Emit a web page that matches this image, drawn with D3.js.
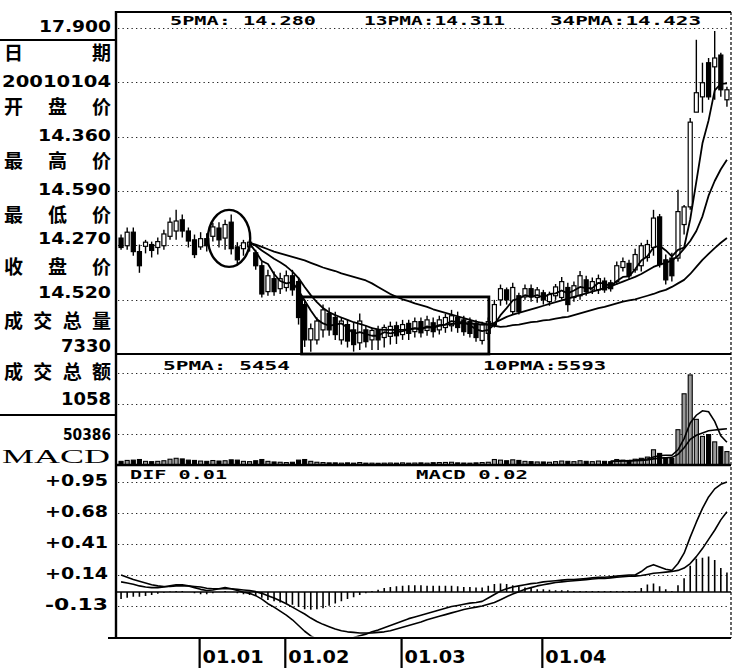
<!DOCTYPE html>
<html><head><meta charset="utf-8">
<script src="https://cdn.jsdelivr.net/npm/d3@7/dist/d3.min.js"></script>
<style>
html,body{margin:0;padding:0;background:#fff;}
svg{display:block;}
</style></head><body>
<svg id="chart" width="736" height="668"></svg>
<script>
// ---------------- DATA ----------------
const opens = [14.33,14.20,14.43,14.10,14.19,14.22,14.17,14.20,14.36,14.45,
14.64,14.45,14.30,14.18,14.32,14.36,14.50,14.33,14.60,14.18,
14.15,14.18,14.08,13.86,13.42,13.64,13.47,13.49,13.69,13.59,
13.20,12.60,12.60,12.77,13.05,12.98,12.60,12.86,12.77,12.55,
12.77,12.60,12.77,12.64,12.66,12.84,12.69,12.88,12.74,12.91,
12.76,12.89,12.77,12.81,12.84,12.98,12.94,12.91,12.88,12.59,
12.71,12.86,13.28,13.45,13.08,13.35,13.33,13.47,13.32,13.40,
13.25,13.35,13.32,13.49,13.32,13.35,13.62,13.45,13.45,13.60,
13.57,13.59,13.83,13.90,13.79,13.86,14.00,14.17,14.69,13.96,
13.99,13.99,14.56,14.86,16.47,16.73,17.31,17.24,17.44,16.68];
const highs = [14.39,14.51,14.51,14.22,14.30,14.27,14.34,14.47,14.68,14.81,
14.73,14.51,14.39,14.43,14.41,14.59,14.60,14.64,14.73,14.26,
14.30,14.30,14.13,13.93,13.79,13.76,13.74,13.78,13.79,13.66,
13.28,12.88,12.98,13.20,13.15,13.08,12.98,12.94,12.90,13.05,
12.84,12.81,12.84,12.86,12.91,12.91,12.94,12.94,12.98,12.98,
13.01,12.98,13.01,13.04,13.11,13.08,13.01,12.98,12.94,12.91,
12.98,13.28,13.54,13.49,13.57,13.40,13.54,13.54,13.50,13.45,
13.42,13.55,13.67,13.57,13.59,13.77,13.69,13.66,13.71,13.66,
13.62,13.93,14.00,13.96,14.15,14.25,14.30,14.81,14.74,14.05,
14.08,15.15,14.89,16.37,17.70,17.31,17.39,17.85,17.48,16.90];
const lows = [14.13,14.13,14.03,13.74,14.07,14.00,14.05,14.13,14.30,14.30,
14.34,14.17,13.99,14.13,14.10,14.27,14.17,14.13,14.05,13.88,
14.03,14.10,13.79,13.32,13.35,13.35,13.38,13.42,13.35,12.86,
12.48,12.40,12.52,12.64,12.67,12.60,12.52,12.47,12.40,12.43,
12.47,12.43,12.43,12.47,12.52,12.53,12.60,12.60,12.64,12.64,
12.67,12.64,12.69,12.72,12.74,12.72,12.67,12.64,12.57,12.52,
12.60,12.81,13.18,13.20,13.03,13.03,13.28,13.25,13.23,13.20,
13.18,13.28,13.28,13.08,13.25,13.28,13.35,13.38,13.38,13.40,
13.42,13.54,13.76,13.62,13.74,13.76,13.93,14.03,13.83,13.54,
13.59,13.93,14.39,14.81,16.47,16.46,16.68,16.68,16.73,16.56];
const closes = [14.17,14.43,14.10,13.86,14.26,14.12,14.27,14.40,14.60,14.62,
14.45,14.28,14.05,14.32,14.20,14.52,14.30,14.56,14.15,13.96,
14.25,14.26,13.86,13.38,13.69,13.42,13.64,13.69,13.45,12.98,
12.60,12.79,12.92,13.11,12.77,12.69,12.92,12.58,12.52,12.92,
12.57,12.76,12.60,12.81,12.83,12.67,12.86,12.71,12.91,12.72,
12.94,12.74,12.94,12.98,13.01,12.81,12.74,12.71,12.64,12.86,
12.91,13.20,13.47,13.28,13.49,13.08,13.47,13.33,13.45,13.28,
13.37,13.50,13.59,13.20,13.52,13.69,13.42,13.59,13.64,13.45,
13.47,13.86,13.93,13.69,14.05,14.20,14.22,14.67,13.88,13.62,
13.69,14.78,14.86,16.30,16.80,16.97,16.73,17.39,16.85,16.85];
const volumes = [6000,7500,8000,9000,6000,5500,6000,7000,9500,11000,
10000,8000,7500,6500,6000,7330,6500,7000,8500,8000,
6000,5500,7000,9000,6000,5000,4500,4000,4500,8000,
9000,6000,4500,4000,3500,3500,3000,3500,3000,4000,
3000,3000,2800,3000,3200,3000,3500,3000,3200,3500,
3000,3800,4000,4200,4500,3500,3200,3000,3500,4000,
4500,9000,8000,7000,8500,7500,6000,5500,5000,5000,
4500,5500,6500,6000,5500,7000,6000,5500,6500,6000,
5500,9000,8000,7500,9500,11000,13000,25000,19000,12000,
11000,58000,117000,148000,75000,47000,50000,38000,30000,22000];

// price moving averages (shown from candle maStart onward)
const maStart = 21;
const ma5 = [14.24,14.10,13.94,13.89,13.72,13.60,13.56,13.58,13.44,13.27,
13.10,12.95,12.88,12.84,12.86,12.88,12.81,12.70,12.73,12.70,
12.67,12.67,12.73,12.71,12.73,12.75,12.78,12.80,12.77,12.83,
12.80,12.85,12.86,12.92,12.90,12.90,12.85,12.78,12.75,12.77,
12.86,13.02,13.14,13.27,13.30,13.36,13.33,13.36,13.32,13.38,
13.39,13.44,13.39,13.44,13.50,13.48,13.48,13.57,13.56,13.51,
13.60,13.67,13.68,13.80,13.95,14.02,14.17,14.20,14.12,14.02,
14.13,14.17,14.65,15.29,15.94,16.33,16.84,16.95,16.96];
const ma13 = [14.25,14.20,14.12,14.05,13.98,13.92,13.85,13.76,13.65,13.50,
13.36,13.24,13.14,13.07,13.02,12.98,12.94,12.90,12.87,12.84,
12.80,12.78,12.77,12.77,12.77,12.77,12.78,12.79,12.80,12.81,
12.82,12.84,12.86,12.87,12.88,12.88,12.88,12.87,12.86,12.86,
12.89,12.94,12.99,13.03,13.06,13.09,13.12,13.15,13.18,13.21,
13.24,13.27,13.30,13.33,13.36,13.39,13.42,13.45,13.48,13.51,
13.55,13.59,13.63,13.67,13.72,13.78,13.84,13.88,13.91,13.95,
14.03,14.15,14.28,14.45,14.70,15.05,15.30,15.50,15.66];
const ma34 = [14.25,14.22,14.18,14.14,14.10,14.07,14.04,14.01,13.98,13.95,
13.91,13.87,13.83,13.80,13.77,13.73,13.70,13.67,13.64,13.61,
13.56,13.50,13.44,13.38,13.33,13.29,13.26,13.22,13.19,13.16,
13.12,13.09,13.06,13.03,13.00,12.97,12.94,12.91,12.89,12.86,
12.84,12.82,12.83,12.85,12.86,12.88,12.90,12.91,12.93,12.94,
12.96,12.98,12.99,13.02,13.05,13.08,13.11,13.14,13.16,13.19,
13.22,13.25,13.27,13.29,13.32,13.35,13.38,13.42,13.45,13.50,
13.56,13.62,13.72,13.84,13.96,14.06,14.16,14.25,14.33];

// volume moving averages (visible part, from candle volMaStart onward)
const volMaStart = 80;
const volMa5 = [5900,6500,7000,7200,7900,9000,9800,13200,15500,16000,
16000,25000,43400,69200,81800,89000,87400,71600,48000,37400];
const volMa10 = [6000,6350,6500,6650,7050,7450,8150,10100,11350,11950,
12500,17400,28300,42350,48900,52500,56200,57500,58600,59600];

// MACD
const dif = [0.08,0.07,0.06,0.045,0.035,0.03,0.03,0.035,0.045,0.055,
0.055,0.045,0.03,0.015,0.005,0.01,0.02,0.03,0.02,0.005,
-0.01,-0.02,-0.04,-0.07,-0.11,-0.14,-0.175,-0.21,-0.25,-0.30,
-0.35,-0.39,-0.42,-0.43,-0.43,-0.43,-0.425,-0.415,-0.405,-0.39,
-0.375,-0.355,-0.34,-0.32,-0.30,-0.28,-0.26,-0.24,-0.225,-0.21,
-0.195,-0.18,-0.165,-0.15,-0.135,-0.125,-0.115,-0.105,-0.10,-0.09,
-0.06,-0.03,0.00,0.02,0.035,0.045,0.055,0.065,0.07,0.08,
0.085,0.09,0.095,0.10,0.10,0.105,0.11,0.115,0.12,0.12,
0.125,0.13,0.135,0.14,0.14,0.17,0.21,0.23,0.21,0.19,
0.18,0.24,0.33,0.47,0.60,0.72,0.82,0.89,0.93,0.95];
const dea = [0.14,0.12,0.10,0.085,0.07,0.055,0.045,0.04,0.04,0.045,
0.045,0.045,0.04,0.035,0.025,0.02,0.02,0.02,0.02,0.015,
0.01,0.005,-0.005,-0.02,-0.04,-0.06,-0.085,-0.11,-0.14,-0.17,
-0.20,-0.235,-0.265,-0.29,-0.31,-0.33,-0.345,-0.355,-0.36,-0.365,
-0.365,-0.365,-0.36,-0.355,-0.345,-0.33,-0.315,-0.30,-0.285,-0.27,
-0.25,-0.235,-0.22,-0.205,-0.19,-0.175,-0.16,-0.15,-0.14,-0.13,
-0.115,-0.10,-0.075,-0.05,-0.025,-0.005,0.015,0.03,0.045,0.055,
0.065,0.075,0.08,0.085,0.09,0.095,0.10,0.105,0.11,0.11,
0.115,0.12,0.125,0.13,0.13,0.135,0.145,0.155,0.16,0.165,
0.17,0.18,0.20,0.24,0.30,0.37,0.45,0.53,0.62,0.69];
const macdBar = [-0.06,-0.05,-0.04,-0.04,-0.035,-0.025,-0.015,-0.005,0.005,0.01,
0.01,0.0,-0.01,-0.02,-0.02,-0.01,0.0,0.01,0.0,-0.01,
-0.02,-0.025,-0.035,-0.05,-0.07,-0.08,-0.09,-0.10,-0.11,-0.13,
-0.15,-0.155,-0.15,-0.14,-0.12,-0.10,-0.08,-0.06,-0.045,-0.025,
-0.01,0.01,0.02,0.035,0.045,0.05,0.055,0.06,0.06,0.06,
0.055,0.055,0.055,0.055,0.055,0.05,0.045,0.045,0.04,0.04,
0.055,0.07,0.075,0.07,0.06,0.05,0.04,0.035,0.025,0.025,
0.02,0.015,0.015,0.015,0.01,0.01,0.01,0.01,0.01,0.01,
0.01,0.01,0.01,0.01,0.01,0.035,0.065,0.075,0.05,0.025,
0.01,0.06,0.12,0.23,0.29,0.30,0.31,0.28,0.21,0.17];

// axes / labels
const priceTop = 17.9, priceBottom = 12.36;
const volGridStep = 50386;
const macdTicks = [0.95, 0.68, 0.41, 0.14, -0.13];
const macdTickLabels = ["+0.95", "+0.68", "+0.41", "+0.14", "-0.13"];
const monthIdx = [13, 27, 46, 69];
const monthLabels = ["01.01", "01.02", "01.03", "01.04"];
const priceHeader = ["5PMA:  14.280", "13PMA:14.311", "34PMA:14.423"];
const volHeader = ["5PMA:  5454", "10PMA:5593"];
const macdHeader = ["DIF 0.01", "MACD 0.02"];
const infoLabels = ["日期", "开盘价", "最高价", "最低价", "收盘价", "成交总量", "成交总额"];
const infoValues = ["20010104", "14.360", "14.590", "14.270", "14.520", "7330", "1058"];
// annotations: ellipse around candles 14.2..21.1, box around candles 29.5..60.1
const circleSpan = [14.2, 21.1], circlePrice = [13.84, 14.81];
const boxSpan = [29.5, 60.1], boxPriceTop = 13.33;

// ---------------- LAYOUT ----------------
const L = 116, R = 731, TOP = 12, PB = 354, VB = 465, MB = 638;
const svg = d3.select("#chart");
const N = closes.length;
const xi = d3.scaleLinear().domain([-0.5, N - 0.5]).range([118, 730]);
const step = xi(1) - xi(0);
const bw = step * 0.66;
const yP = d3.scaleLinear().domain([priceBottom, priceTop]).range([PB, 28]);
const yV = d3.scaleLinear().domain([0, volGridStep * 3]).range([VB, 373]);
const yM = d3.scaleLinear().domain([macdTicks[4], macdTicks[0]]).range([606, 482]);
const idx = d3.range(N);

const numFont = "'DejaVu Sans', 'Liberation Sans', sans-serif";
const monoFont = "'DejaVu Sans Mono', 'Liberation Mono', monospace";
const cjkFont = "'Noto Sans CJK SC', 'Noto Sans', sans-serif";

// ---- dotted grid lines
function dotted(g, ys) {
  g.selectAll(null).data(ys).join("line")
    .attr("x1", L + 2).attr("x2", R - 2)
    .attr("y1", d => Math.round(d) + 0.5).attr("y2", d => Math.round(d) + 0.5)
    .attr("stroke", "#222").attr("stroke-width", 1).attr("stroke-dasharray", "1.3,3.2");
}
const gGrid = svg.append("g");
dotted(gGrid, d3.range(1, 7).map(k => yP(priceBottom + k * (priceTop - priceBottom) / 6)));
dotted(gGrid, [1, 2, 3].map(k => yV(k * volGridStep)));
dotted(gGrid, macdTicks.map(v => yM(v)));

// ---- headers
function header(items, xs, widths, base) {
  svg.append("g").selectAll(null).data(items).join("text")
    .attr("x", (d, k) => xs[k]).attr("y", base)
    .attr("textLength", (d, k) => widths[k]).attr("lengthAdjust", "spacingAndGlyphs")
    .attr("font-family", monoFont).attr("font-weight", "bold").attr("font-size", 12)
    .text(d => d);
}
header(priceHeader, [170, 364, 550], [146, 141, 151], 25);
header(volHeader, [163, 483], [127, 123], 370);
header(macdHeader, [130, 416], [97, 112], 479);

// ---- candles
const gK = svg.append("g");
gK.selectAll(null).data(idx).join("line")
  .attr("x1", i => xi(i)).attr("x2", i => xi(i))
  .attr("y1", i => yP(highs[i])).attr("y2", i => yP(lows[i]))
  .attr("stroke", "#000").attr("stroke-width", 1.4);
gK.selectAll(null).data(idx).join("rect")
  .attr("x", i => xi(i) - bw / 2)
  .attr("y", i => yP(Math.max(opens[i], closes[i])))
  .attr("width", bw)
  .attr("height", i => Math.max(1.2, Math.abs(yP(opens[i]) - yP(closes[i]))))
  .attr("fill", i => closes[i] >= opens[i] ? "#fff" : "#000")
  .attr("stroke", "#000").attr("stroke-width", 1.2);

// ---- price MAs
const maLine = d3.line().x((d, k) => xi(maStart + k)).y(d => yP(d));
[ma5, ma13, ma34].forEach(arr => {
  svg.append("path").attr("d", maLine(arr)).attr("fill", "none")
    .attr("stroke", "#000").attr("stroke-width", 1.8).attr("stroke-linejoin", "round");
});

// ---- annotations
svg.append("ellipse")
  .attr("cx", (xi(circleSpan[0]) + xi(circleSpan[1])) / 2)
  .attr("cy", (yP(circlePrice[0]) + yP(circlePrice[1])) / 2)
  .attr("rx", (xi(circleSpan[1]) - xi(circleSpan[0])) / 2)
  .attr("ry", (yP(circlePrice[0]) - yP(circlePrice[1])) / 2)
  .attr("fill", "none").attr("stroke", "#000").attr("stroke-width", 2.4);
svg.append("rect")
  .attr("x", xi(boxSpan[0])).attr("y", yP(boxPriceTop))
  .attr("width", xi(boxSpan[1]) - xi(boxSpan[0]))
  .attr("height", yP(priceBottom) - yP(boxPriceTop))
  .attr("fill", "none").attr("stroke", "#000").attr("stroke-width", 2.8);

// ---- volume
const gV = svg.append("g");
gV.selectAll(null).data(idx).join("rect")
  .attr("x", i => xi(i) - bw / 2).attr("y", i => yV(volumes[i]))
  .attr("width", bw).attr("height", i => yV(0) - yV(volumes[i]))
  .attr("fill", i => closes[i] >= opens[i] ? "#9a9a9a" : "#000")
  .attr("stroke", "#000").attr("stroke-width", 1.1);
const vLine = d3.line().x((d, k) => xi(volMaStart + k)).y(d => yV(d));
[volMa5, volMa10].forEach(arr => {
  svg.append("path").attr("d", vLine(arr)).attr("fill", "none")
    .attr("stroke", "#000").attr("stroke-width", 1.6);
});

// ---- MACD
svg.append("defs").append("clipPath").attr("id", "mclip")
  .append("rect").attr("x", L).attr("y", VB).attr("width", R - L).attr("height", MB - VB - 1.5);
const gM = svg.append("g").attr("clip-path", "url(#mclip)");
gM.append("line").attr("x1", L).attr("x2", R).attr("y1", yM(0) + 1).attr("y2", yM(0) + 1)
  .attr("stroke", "#000").attr("stroke-width", 1.6);
gM.selectAll(null).data(idx).join("line")
  .attr("x1", i => xi(i)).attr("x2", i => xi(i))
  .attr("y1", yM(0) + 1).attr("y2", i => yM(macdBar[i]) + 1)
  .attr("stroke", "#000").attr("stroke-width", 1.6);
const mLine = d3.line().x((d, k) => xi(k)).y(d => yM(d));
[dif, dea].forEach(arr => {
  gM.append("path").attr("d", mLine(arr)).attr("fill", "none")
    .attr("stroke", "#000").attr("stroke-width", 1.6).attr("stroke-linejoin", "round");
});

// ---- frame
const gF = svg.append("g").attr("stroke", "#000");
gF.append("line").attr("x1", L).attr("x2", L).attr("y1", TOP - 1).attr("y2", MB + 1).attr("stroke-width", 2.4);
gF.append("line").attr("x1", L).attr("x2", R).attr("y1", TOP).attr("y2", TOP).attr("stroke-width", 2.2);
gF.append("line").attr("x1", L).attr("x2", R).attr("y1", PB).attr("y2", PB).attr("stroke-width", 2.2);
gF.append("line").attr("x1", L).attr("x2", R).attr("y1", VB).attr("y2", VB).attr("stroke-width", 2.4);
gF.append("line").attr("x1", 108).attr("x2", R).attr("y1", MB).attr("y2", MB).attr("stroke-width", 2.2);
gF.append("line").attr("x1", R).attr("x2", R).attr("y1", TOP).attr("y2", MB)
  .attr("stroke-width", 1.2).attr("stroke-dasharray", "3,2");
gF.append("line").attr("x1", 0).attr("x2", L).attr("y1", 40).attr("y2", 40).attr("stroke-width", 2.2);
gF.append("line").attr("x1", 0).attr("x2", L).attr("y1", 415).attr("y2", 415).attr("stroke-width", 2.2);

// ---- left info column
const gL = svg.append("g").attr("fill", "#000");
function numText(str, right, centerY, size, width) {
  gL.append("text").attr("x", right - width).attr("y", centerY + size * 0.36)
    .attr("textLength", width).attr("lengthAdjust", "spacingAndGlyphs")
    .attr("font-family", numFont).attr("font-weight", "bold").attr("font-size", size)
    .text(str);
}
numText(priceTop.toFixed(3), 111, yP(priceTop) - 2, 16, 72);
const labelCY = [53, 107, 161, 215, 267, 321, 372];
const valueCY = [81, 136, 190, 239, 293, 346, 399];
const valueW = {8: 109, 6: 73, 4: 50};
const valueSize = {8: 16, 6: 15, 4: 17};
infoLabels.forEach((lab, k) => {
  gL.append("text").attr("x", 4).attr("y", labelCY[k] + 7.2)
    .attr("textLength", 107).attr("lengthAdjust", "spacing")
    .attr("font-family", cjkFont).attr("font-weight", "bold").attr("font-size", 19)
    .text(lab);
});
infoValues.forEach((v, k) => numText(v, 111, valueCY[k], valueSize[v.length], valueW[v.length]));
numText(String(volGridStep), 111, yV(volGridStep) - 0.5, 16, 48);
gL.append("text").attr("x", 2).attr("y", 463)
  .attr("textLength", 108).attr("lengthAdjust", "spacingAndGlyphs")
  .attr("font-family", "'Liberation Serif', 'DejaVu Serif', serif").attr("font-size", 19)
  .text("MACD");
macdTickLabels.forEach((t, k) => numText(t, 108, yM(macdTicks[k]) - 1, 15, 63));

// ---- x axis (month ticks)
const gX = svg.append("g");
gX.selectAll(null).data(monthIdx).join("line")
  .attr("x1", i => xi(i) - 1).attr("x2", i => xi(i) - 1)
  .attr("y1", MB).attr("y2", 668).attr("stroke", "#000").attr("stroke-width", 2.2);
gX.selectAll(null).data(monthIdx).join("text")
  .attr("x", i => xi(i) + 2).attr("y", 663)
  .attr("textLength", 61).attr("lengthAdjust", "spacingAndGlyphs")
  .attr("font-family", numFont).attr("font-weight", "bold").attr("font-size", 18)
  .text((i, k) => monthLabels[k]);
</script></body></html>
